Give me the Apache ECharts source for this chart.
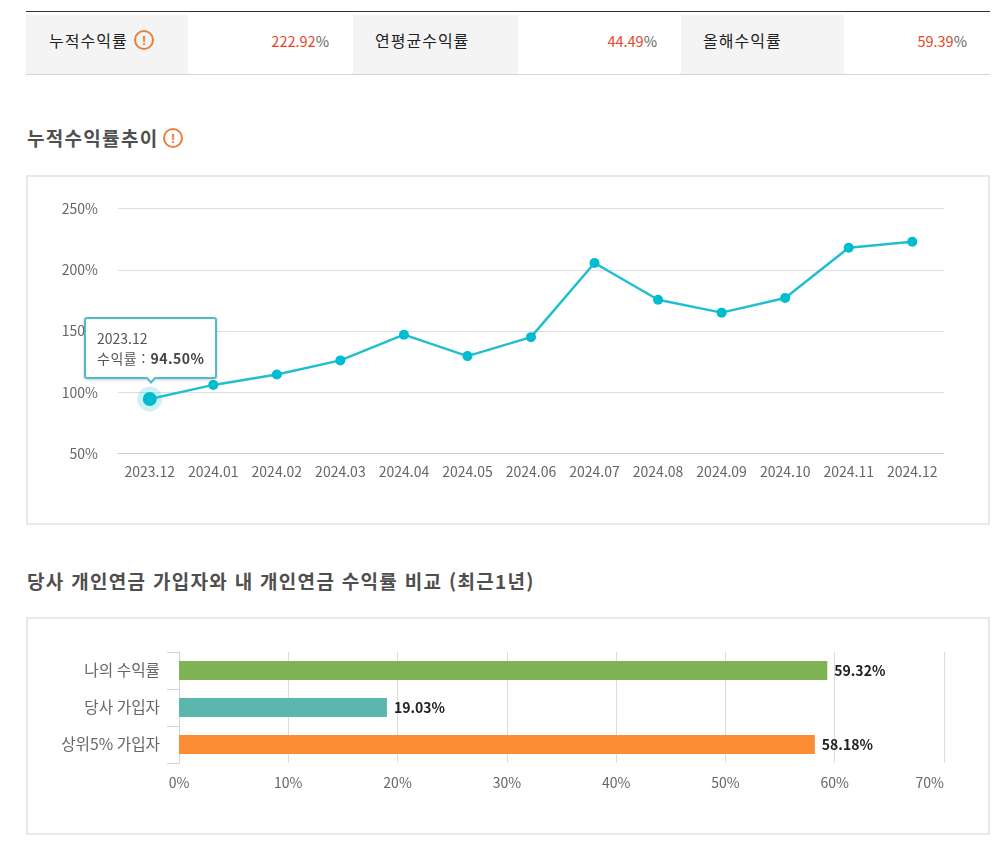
<!DOCTYPE html>
<html lang="ko">
<head>
<meta charset="utf-8">
<title>누적수익률</title>
<script src="https://cdn.jsdelivr.net/npm/echarts@6/dist/echarts.min.js"></script>
<style>
  html, body { margin: 0; padding: 0; background: #fff; }
  body { width: 1000px; height: 848px; position: relative; overflow: hidden;
         font-family: "Noto Sans CJK KR", "Open Sans", sans-serif; color: #333; }
  .abs { position: absolute; }
  #summary { left: 26px; top: 11px; width: 964px; height: 64px;
             border-top: 1.5px solid #333; border-bottom: 1.5px solid #d4d4d4; box-sizing: border-box; }
  .head { position: absolute; top: 3px; height: 59px; background: #f4f4f4; }
  .label { position: absolute; top: 16px; font-size: 16px; letter-spacing: 1px; line-height: 24px; color: #222; white-space: nowrap; }
  .val { position: absolute; top: 18px; font-size: 14.5px; line-height: 22px; color: #666; text-align: right; white-space: nowrap; }
  .val b { font-weight: 400; color: #e8452a; }
  .icon { position: absolute; width: 20px; height: 20px; box-sizing: border-box; border: 2px solid #ee7f3a;
          border-radius: 50%; color: #ee7f3a; font: 700 13px/16px "Open Sans", sans-serif; text-align: center; }
  .title { position: absolute; left: 27px; font-size: 19px; letter-spacing: 1.3px; line-height: 24px; font-weight: 700; color: #4f4f4f; white-space: nowrap; }
  .box { position: absolute; left: 26px; width: 964px; box-sizing: border-box; border: 2px solid #e8e8e8; }
  #chart { position: absolute; left: 0; top: 0; width: 1000px; height: 848px; }
</style>
</head>
<body>
<div id="summary" class="abs"></div>
<div class="title" style="top:126px">누적수익률추이</div>
<div class="icon" style="left:163px;top:128px">!</div>
<div class="title" style="top:569px">당사 개인연금 가입자와 내 개인연금 수익률 비교 (최근1년)</div>
<div class="box" style="top:175px;height:350px"></div>
<div class="box" style="top:617px;height:218px"></div>
<div id="chart"></div>
<script>
// Summary figures shown in the header row
const summaryLabels = ['누적수익률', '연평균수익률', '올해수익률'];
const summaryValues = ['222.92', '44.49', '59.39'];

// Cumulative return trend by month
const months = ['2023.12','2024.01','2024.02','2024.03','2024.04','2024.05','2024.06','2024.07','2024.08','2024.09','2024.10','2024.11','2024.12'];
const cumulativeReturns = [94.5, 106, 114.5, 126, 147, 129.5, 145, 205.5, 175.5, 165, 177, 218, 222.92];

// One-year comparison
const peerLabels = ['나의 수익률', '당사 가입자', '상위5% 가입자'];
const peerReturns = [59.32, 19.03, 58.18];
const peerColors = ['#7fb356', '#5bb7ae', '#fb8c33'];

// Header row layout: label cell left, width, text left, value right edge
const cells = [[0, 162, 23, 303], [327, 165, 349, 631], [655, 163, 677, 941]];
const summary = document.getElementById('summary');
cells.forEach(function (c, i) {
  summary.insertAdjacentHTML('beforeend',
    '<div class="head" style="left:' + c[0] + 'px;width:' + c[1] + 'px"></div>' +
    '<div class="label" style="left:' + c[2] + 'px">' + summaryLabels[i] + '</div>' +
    '<div class="val" style="right:' + (964 - c[3]) + 'px"><b>' + summaryValues[i] + '</b>%</div>');
});
summary.insertAdjacentHTML('beforeend', '<div class="icon" style="left:108px;top:18px">!</div>');

const fontFamily = '"Noto Sans CJK KR", "Open Sans", sans-serif';
const chart = echarts.init(document.getElementById('chart'), null, { renderer: 'canvas' });

chart.setOption({
  animation: false,
  textStyle: { fontFamily: fontFamily },
  tooltip: {
    show: true,
    trigger: 'item',
    alwaysShowContent: true,
    position: 'top',
    backgroundColor: 'rgba(255,255,255,0.96)',
    borderColor: '#4dbcc8',
    borderWidth: 2,
    padding: [9, 11],
    transitionDuration: 0,
    extraCssText: 'border-radius:3px;margin-top:-2px;margin-left:1px;box-shadow:0 1px 3px rgba(0,0,0,0.2);',
    textStyle: { fontFamily: fontFamily, fontSize: 14, color: '#555' },
    formatter: function (p) {
      return '<div style="line-height:20px">' + p.name +
        '<br><span style="letter-spacing:0.5px">수익률 : <b style="color:#444">' +
        p.value.toFixed(2) + '%</b></span></div>';
    }
  },
  grid: [
    { left: 118, top: 208.5, width: 826, height: 245 },
    { left: 179, top: 652, width: 765, height: 111 }
  ],
  xAxis: [
    {
      gridIndex: 0, type: 'category', data: months,
      axisLine: { show: true, lineStyle: { color: '#c9ced3' } },
      axisTick: { show: false },
      axisLabel: { color: '#666', fontSize: 14, margin: 11, interval: 0 }
    },
    {
      gridIndex: 1, type: 'value', min: 0, max: 70, interval: 10,
      axisLine: { show: false }, axisTick: { show: false },
      axisLabel: { color: '#666', fontSize: 14, margin: 13, formatter: '{value}%', alignMaxLabel: 'right' },
      splitLine: { show: true, lineStyle: { color: '#dcdcdc' } }
    }
  ],
  yAxis: [
    {
      gridIndex: 0, type: 'value', min: 50, max: 250, interval: 50,
      axisLine: { show: false }, axisTick: { show: false },
      axisLabel: { color: '#666', fontSize: 14, margin: 20, formatter: '{value}%' },
      splitLine: { show: true, lineStyle: { color: '#dcdfe2' } }
    },
    {
      gridIndex: 1, type: 'category', data: peerLabels, inverse: true,
      axisLine: { show: true, lineStyle: { color: '#ccd3da' } },
      axisTick: { show: true, length: 12, lineStyle: { color: '#ccd3da' } },
      axisLabel: { color: '#666', fontSize: 15.7, margin: 19 }
    }
  ],
  series: [
    {
      type: 'line', xAxisIndex: 0, yAxisIndex: 0, z: 3,
      data: cumulativeReturns.map(function (v, i) {
        // The first point is the active one and gets a larger marker
        return i === 0 ? { value: v, symbolSize: 14 } : v;
      }),
      symbol: 'circle', symbolSize: 10,
      lineStyle: { color: '#1fbfd0', width: 2.5 },
      itemStyle: { color: '#00bcd0' },
      emphasis: { disabled: true }
    },
    {
      // Soft ring behind the active point
      type: 'line', xAxisIndex: 0, yAxisIndex: 0, z: 2,
      data: cumulativeReturns.slice(0, 1),
      symbol: 'circle', symbolSize: 25,
      showSymbol: true,
      itemStyle: { color: 'rgba(0,188,208,0.2)' },
      tooltip: { show: false },
      silent: true,
      emphasis: { disabled: true }
    },
    {
      type: 'bar', xAxisIndex: 1, yAxisIndex: 1,
      barWidth: 19,
      data: peerReturns.map(function (v, i) {
        return { value: v, itemStyle: { color: peerColors[i] } };
      }),
      label: {
        show: true, position: 'right', distance: 7,
        color: '#222', fontSize: 14, fontWeight: 700,
        formatter: function (p) { return p.value.toFixed(2) + '%'; }
      },
      tooltip: { show: false },
      emphasis: { disabled: true }
    }
  ]
});
chart.dispatchAction({ type: 'showTip', seriesIndex: 0, dataIndex: 0 });
</script>
</body>
</html>
